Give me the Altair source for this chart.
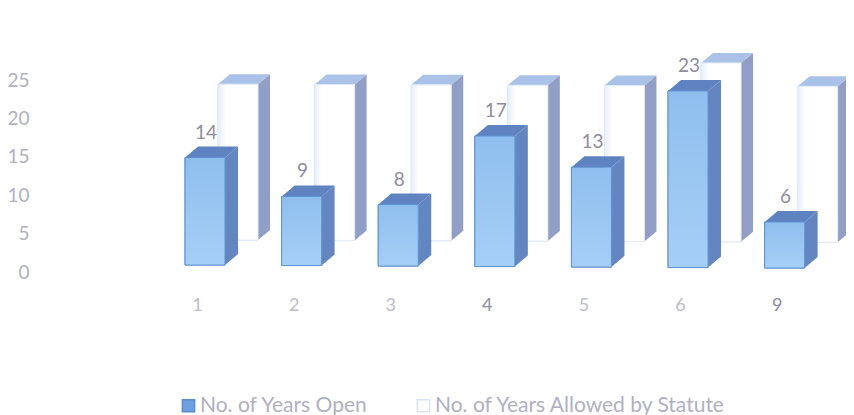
import altair as alt
import pandas as pd

categories = ["1", "2", "3", "4", "5", "6", "9"]
years_open = [14, 9, 8, 17, 13, 23, 6]
years_allowed = [20.3, 20.3, 20.3, 20.3, 20.3, 23.3, 20.3]
series_names = ["No. of Years Open", "No. of Years Allowed by Statute"]

PX_X = 96.6   # pixels per category
PX_Y = 7.68   # pixels per value unit
def ux(p): return p / PX_X
def uy(p): return p / PX_Y

FONT = "Lato"
rows_front, rows_side, rows_cap, rows_label = [], [], [], []

def build(values, name, left_px, width_px, base_start_px, tilt_px, dx_px, dy_px):
    for i, v in enumerate(values):
        L = i + ux(left_px)
        R = L + ux(width_px)
        d = ux(dx_px)
        h = uy(dy_px)
        B = uy(base_start_px + tilt_px * i)
        T = B + v
        rows_front.append(dict(series=name, id=f"{name}{i}", L=L, R=R, B=B, T=T))
        rows_side.append(dict(series=name, id=f"{name}{i}", x=R, y=T, y2=B))
        rows_side.append(dict(series=name, id=f"{name}{i}", x=R + d, y=T + h, y2=B + h))
        rows_cap.append(dict(series=name, id=f"{name}{i}", y=T, x=L, x2=R))
        rows_cap.append(dict(series=name, id=f"{name}{i}", y=T + h, x=L + d, x2=R + d))
        if name == series_names[0]:
            rows_label.append(dict(cx=(L + R) / 2 + ux(1), y=T + uy(25), text=str(v)))

build(years_allowed, series_names[1], 21, 40, 32, -0.35, 12, 10)
build(years_open, series_names[0], -12, 40, 7, -0.5, 13, 11)

front = pd.DataFrame(rows_front)
side = pd.DataFrame(rows_side)
cap = pd.DataFrame(rows_cap)
labels = pd.DataFrame(rows_label)

xs = alt.Scale(domain=[-1.698, 6.718], nice=False, zero=False)
ys = alt.Scale(domain=[-2.6, 31], nice=False, zero=False)

AX = alt.Axis(
    values=list(range(len(categories))),
    labelExpr="['1','2','3','4','5','6','9'][datum.value]",
    title=None, domain=False, ticks=False, grid=False, labelFont=FONT, labelFontSize=18,
    labelColor={"condition": {"test": "datum.value==3||datum.value==6", "value": "#8b8ca0"}, "value": "#bcbcc8"},
    labelPadding=4)
AY = alt.Axis(
    values=[0, 5, 10, 15, 20, 25], title=None, domain=False, ticks=False, grid=False,
    labelFont=FONT, labelFontSize=19, labelColor="#b0b0be", labelPadding=4)

color = alt.Color("series:N", scale=alt.Scale(domain=series_names, range=["#6c9fde", "#ffffff"]),
    legend=alt.Legend(title=None, orient="none", legendX=145, legendY=361, direction="horizontal",
        symbolType="square", symbolSize=150, symbolStrokeWidth=1.5, labelFont=FONT, labelFontSize=21,
        labelColor="#b0b0c2", columnPadding=45, labelOffset=1, labelLimit=400))
stroke = alt.Stroke("series:N", scale=alt.Scale(domain=series_names, range=["#5b8ccc", "#d5e4f6"]), legend=None)

def faces(name, side_col, cap_col, grad, edge):
    s = alt.Chart(side[side.series == name]).mark_area(color=side_col, orient="vertical").encode(
        x=alt.X("x:Q", scale=xs, axis=AX), y=alt.Y("y:Q", scale=ys, axis=AY), y2="y2:Q", detail="id:N")
    c = alt.Chart(cap[cap.series == name]).mark_area(color=cap_col, orient="horizontal").encode(
        y=alt.Y("y:Q", scale=ys, axis=AY), x=alt.X("x:Q", scale=xs, axis=AX), x2="x2:Q", detail="id:N")
    f = alt.Chart(front[front.series == name]).mark_rect(
        fill=grad, stroke=edge, strokeWidth=1).encode(
        x=alt.X("L:Q", scale=xs, axis=AX), x2="R:Q",
        y=alt.Y("B:Q", scale=ys, axis=AY), y2="T:Q")
    return s + c + f

legend_base = alt.Chart(front).mark_rect(strokeWidth=1).encode(
    x=alt.X("L:Q", scale=xs, axis=AX), x2="R:Q",
    y=alt.Y("B:Q", scale=ys, axis=AY), y2="T:Q", fill=color, stroke=stroke)

white = faces(series_names[1], "#919fc6", "#aac1e8",
    alt.Gradient(gradient="linear", x1=0, y1=0, x2=1, y2=0,
        stops=[alt.GradientStop(offset=0, color="#e6effb"), alt.GradientStop(offset=0.2, color="#ffffff"),
               alt.GradientStop(offset=1, color="#ffffff")]), "#e0e9f7")
blue = faces(series_names[0], "#6486c0", "#5f83c0",
    alt.Gradient(gradient="linear", x1=0, y1=0, x2=0, y2=1,
        stops=[alt.GradientStop(offset=0, color="#8fbeee"), alt.GradientStop(offset=1, color="#a6cff6")]), "#5f92d2")

text = alt.Chart(labels).mark_text(font=FONT, fontSize=19, color="#8f8c9c").encode(
    x=alt.X("cx:Q", scale=xs, axis=AX), y=alt.Y("y:Q", scale=ys, axis=AY), text="text:N")

chart = alt.layer(legend_base, white, blue, text).properties(
    width=813, height=258,
    padding={"left": 25, "top": 26, "right": 0, "bottom": 123},
    autosize=alt.AutoSizeParams(type="none"),
).configure_view(stroke=None)

chart.save("out.html", embed_options={"renderer": "svg", "actions": False})
